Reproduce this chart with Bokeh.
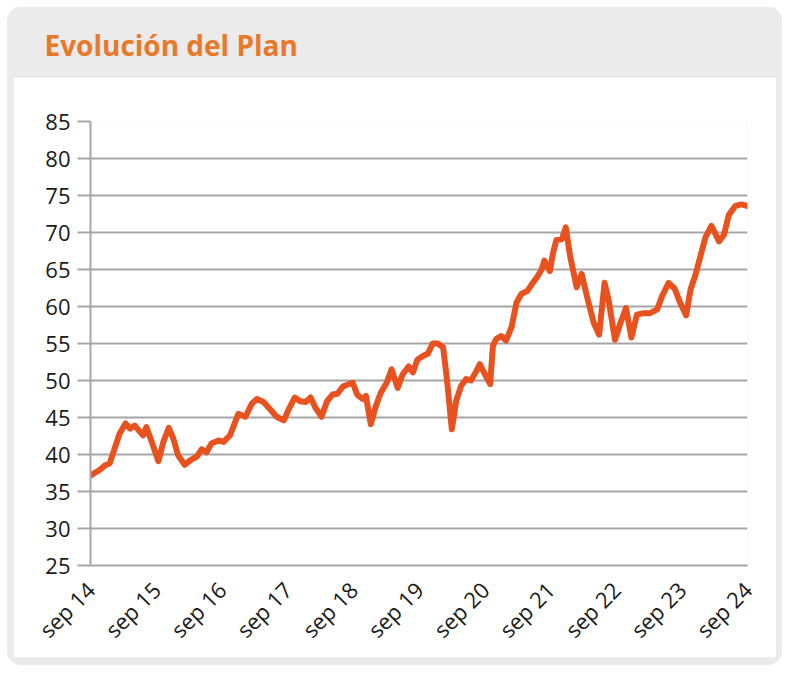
import math
from bokeh.plotting import figure
from bokeh.models import Range1d, FixedTicker, Label, Column
from bokeh.embed import file_html
from bokeh.resources import INLINE

# ---- data ----
title_text = "Evolución del Plan"
x_tick_labels = ["sep 14", "sep 15", "sep 16", "sep 17", "sep 18", "sep 19",
                 "sep 20", "sep 21", "sep 22", "sep 23", "sep 24"]
x_tick_months = [0, 12, 24, 36, 48, 60, 72, 84, 96, 108, 120]
y_ticks = [25, 30, 35, 40, 45, 50, 55, 60, 65, 70, 75, 80, 85]

# months since sep 2014
months = [0.1, 1.65, 2.6, 3.5, 4.4, 5.3, 6.4, 7.2, 8.1, 9.0, 9.6, 10.2, 11.1, 12.4, 13.3,
          14.3, 15.1, 16.0, 17.2, 18.2, 19.4, 20.3, 21.2, 22.1, 23.4, 24.3, 25.5, 27.0,
          28.3, 29.5, 30.4, 31.6,
          32.8, 34.0, 35.3, 36.2, 37.3, 38.3, 39.3, 40.2, 41.1, 42.2, 43.2, 44.2, 45.1,
          46.1, 47.1, 47.9, 48.7, 49.7, 50.3, 51.2, 52.1, 53.0, 54.1, 55.0, 56.1, 57.0,
          58.1, 58.9, 59.7, 60.7, 61.6, 62.5,
          63.4, 64.4, 65.1, 66.0, 66.8, 67.7, 68.6, 69.5, 70.5, 71.1, 72.0, 73.0, 73.5,
          74.1, 75.0, 75.9, 76.9, 77.8, 78.7, 79.8, 80.6, 81.5, 82.4, 82.9, 83.9, 84.5,
          85.1, 86.1, 86.8, 87.6, 88.8, 89.7,
          90.8, 91.9, 92.9, 93.9, 94.6, 95.8, 96.9, 97.8, 98.8, 99.8, 101.0, 102.2, 103.5,
          104.4, 105.6, 106.7, 107.7, 108.8, 109.6, 110.5, 111.4, 112.3, 113.4, 114.0,
          114.8, 115.7, 116.6, 117.8, 118.9, 119.9]
values = [37.2, 37.9, 38.5, 38.8, 40.8, 42.8, 44.2, 43.5, 43.9, 43.1, 42.6, 43.7, 41.9, 39.1, 41.7,
          43.6, 42.2, 39.9, 38.6, 39.2, 39.7, 40.7, 40.3, 41.5, 41.9, 41.7, 42.6, 45.5,
          45.1, 46.9, 47.5, 47.1,
          46.1, 45.1, 44.6, 46.1, 47.7, 47.2, 47.1, 47.7, 46.3, 45.1, 47.2, 48.1, 48.2,
          49.2, 49.5, 49.7, 48.1, 47.5, 47.9, 44.1, 46.5, 48.3, 49.7, 51.5, 49.0, 50.8,
          51.9, 51.1, 52.8, 53.3, 53.6, 55.0,
          55.0, 54.5, 50.2, 43.4, 47.3, 49.3, 50.2, 50.0, 51.3, 52.2, 50.9, 49.5, 54.7,
          55.6, 56.0, 55.4, 57.2, 60.5, 61.7, 62.1, 63.0, 63.9, 65.0, 66.2, 64.8, 67.3,
          69.0, 69.1, 70.7, 66.8, 62.6, 64.4,
          61.0, 57.8, 56.2, 63.2, 61.0, 55.5, 58.0, 59.8, 55.8, 58.9, 59.1, 59.1, 59.6,
          61.4, 63.2, 62.4, 60.5, 58.8, 62.3, 64.3, 66.8, 69.3, 70.9, 70.0,
          68.8, 69.7, 72.4, 73.6, 73.8, 73.6]

ORANGE_TITLE = "#E8792B"
LINE_COLOR = "#E8521F"
GRID = "#a6a6a6"
CARD = "#ebebeb"
FONT = "Open Sans"

# ---- title bar ----
t = figure(width=763, height=70, x_range=Range1d(0, 763), y_range=Range1d(0, 70),
           output_backend="svg", toolbar_location=None, frame_align=False,
           min_border=0, min_border_left=0, min_border_right=0,
           min_border_top=0, min_border_bottom=0,
           background_fill_color=CARD, border_fill_color=CARD, outline_line_color=None)
t.axis.visible = False
t.grid.visible = False
t.add_layout(Label(x=31, y=33, text=title_text, text_font=FONT, text_font_size="28px",
                   text_font_style="bold", text_color=ORANGE_TITLE,
                   text_baseline="alphabetic", text_align="left"))

# ---- main chart ----
p = figure(width=763, height=580, x_range=Range1d(0, 120), y_range=Range1d(25, 85),
           output_backend="svg", toolbar_location=None, frame_align=False,
           min_border_left=77, min_border_right=29, min_border_top=44, min_border_bottom=91,
           background_fill_color="white", border_fill_color="white", outline_line_color=None)

p.line(months, values, line_color=LINE_COLOR, line_width=6, line_join="round", line_cap="round")

p.yaxis.ticker = FixedTicker(ticks=y_ticks)
p.ygrid.ticker = FixedTicker(ticks=y_ticks)
p.ygrid.grid_line_color = GRID
p.ygrid.grid_line_width = 2
p.xgrid.visible = False

p.yaxis.axis_line_color = GRID
p.yaxis.axis_line_width = 2
p.yaxis.major_tick_line_color = GRID
p.yaxis.major_tick_line_width = 2
p.yaxis.major_tick_out = 13
p.yaxis.major_tick_in = 0
p.yaxis.minor_tick_line_color = None
p.yaxis.major_label_standoff = 7
p.yaxis.major_label_text_font = FONT
p.yaxis.major_label_text_font_size = "22px"
p.yaxis.major_label_text_color = "#1a1a1a"

p.xaxis.ticker = FixedTicker(ticks=x_tick_months)
p.xaxis.major_label_overrides = {m: lab for m, lab in zip(x_tick_months, x_tick_labels)}
p.xaxis.major_label_orientation = math.pi / 4
p.xaxis.axis_line_color = GRID
p.xaxis.axis_line_width = 2
p.xaxis.major_tick_line_color = None
p.xaxis.minor_tick_line_color = None
p.xaxis.major_tick_out = 0
p.xaxis.major_tick_in = 0
p.xaxis.major_label_standoff = 20
p.xaxis.major_label_text_font = FONT
p.xaxis.major_label_text_font_size = "22px"
p.xaxis.major_label_text_color = "#1a1a1a"

layout = Column(t, p, spacing=0,
                styles={"background-color": CARD, "border-radius": "14px",
                        "padding": "0px 6px 8px 6px", "margin": "7px 0px 0px 7px"})

open("out.html", "w").write(file_html(layout, INLINE))
